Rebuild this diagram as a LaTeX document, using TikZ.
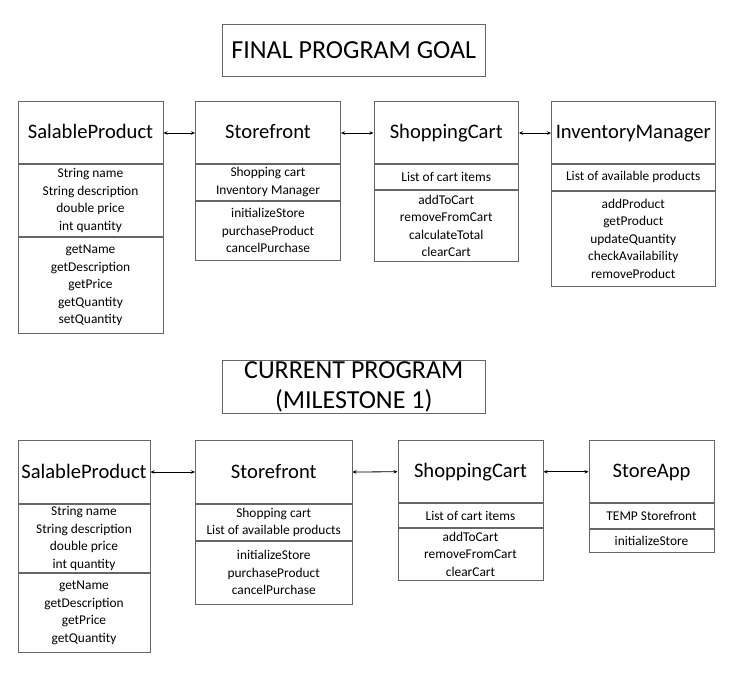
\documentclass[tikz,border=0pt]{standalone}
\usepackage{fontspec}
\setmainfont{Carlito}
\usetikzlibrary{arrows.meta}
\definecolor{boxc}{gray}{0.4}
\newcommand{\hdrfont}{\fontsize{20.6}{24}\selectfont}
\newcommand{\bodyfont}{\fontsize{13.4}{17.5}\selectfont}
\newcommand{\ttlfont}{\fontsize{26}{30}\selectfont}
\begin{document}
\begin{tikzpicture}[x=1pt,y=-1pt,
  box/.style={draw=boxc, line width=1pt, anchor=north west, inner sep=0pt, align=center, font=\bodyfont},
  hdr/.style={box, font=\hdrfont, text height=16.5pt, text depth=3.5pt},
  ttl/.style={box, font=\ttlfont},
  link/.style={line width=0.8pt, {Stealth[length=4pt,width=3.5pt]}-{Stealth[length=4pt,width=3.5pt]}}]
\useasboundingbox (0,0) rectangle (736,675);
% titles
\node[ttl, minimum width=263.5, minimum height=52] (t1) at (221.5,24) {FINAL PROGRAM GOAL};
\node[ttl, minimum width=263.5, minimum height=52.5] (t2) at (221.5,360) {CURRENT PROGRAM\\(MILESTONE 1)};
% ---- top row ----
\node[hdr, minimum width=145, minimum height=62] (spH) at (17.5,100.5) {SalableProduct};
\node[box, minimum width=145, minimum height=72.5] (spA) at (spH.south west) {String name\\String description\\double price\\int quantity};
\node[box, minimum width=145, minimum height=96] (spM) at (spA.south west) {getName\\getDescription\\getPrice\\getQuantity\\setQuantity};

\node[hdr, minimum width=145, minimum height=62] (sfH) at (195,100.5) {Storefront};
\node[box, minimum width=145, minimum height=36] (sfA) at (sfH.south west) {Shopping cart\\Inventory Manager};
\node[box, minimum width=145, minimum height=59.5] (sfM) at (sfA.south west) {initializeStore\\purchaseProduct\\cancelPurchase};

\node[hdr, minimum width=144.5, minimum height=62] (scH) at (373.5,100.5) {ShoppingCart};
\node[box, minimum width=144.5, minimum height=25.5] (scA) at (scH.south west) {List of cart items};
\node[box, minimum width=144.5, minimum height=70.5] (scM) at (scA.south west) {addToCart\\removeFromCart\\calculateTotal\\clearCart};

\node[hdr, minimum width=163.5, minimum height=62] (imH) at (551,100.5) {InventoryManager};
\node[box, minimum width=163.5, minimum height=26] (imA) at (imH.south west) {List of available products};
\node[box, minimum width=163.5, minimum height=95] (imM) at (imA.south west) {addProduct\\getProduct\\updateQuantity\\checkAvailability\\removeProduct};

\draw[link] ([yshift=-1pt]spH.east) -- ([yshift=-1pt]sfH.west);
\draw[link] ([yshift=-1pt]sfH.east) -- ([yshift=-1pt]scH.west);
\draw[link] ([yshift=-1pt]scH.east) -- ([yshift=-1pt]imH.west);
% ---- bottom row ----
\node[hdr, minimum width=132, minimum height=63] (bspH) at (17.5,439.5) {SalableProduct};
\node[box, minimum width=132, minimum height=68.5] (bspA) at (bspH.south west) {String name\\String description\\double price\\int quantity};
\node[box, minimum width=132, minimum height=79] (bspM) at (bspA.south west) {getName\\getDescription\\getPrice\\getQuantity};

\node[hdr, minimum width=156.5, minimum height=63] (bsfH) at (195,439.5) {Storefront};
\node[box, minimum width=156.5, minimum height=36.5] (bsfA) at (bsfH.south west) {Shopping cart\\List of available products};
\node[box, minimum width=156.5, minimum height=62.5] (bsfM) at (bsfA.south west) {initializeStore\\purchaseProduct\\cancelPurchase};

\node[hdr, minimum width=145, minimum height=62.5] (bscH) at (397.5,439.5) {ShoppingCart};
\node[box, minimum width=145, minimum height=24] (bscA) at (bscH.south west) {List of cart items};
\node[box, minimum width=145, minimum height=51.5] (bscM) at (bscA.south west) {addToCart\\removeFromCart\\clearCart};

\node[hdr, minimum width=125, minimum height=62.5] (saH) at (588.5,439.5) {StoreApp};
\node[box, minimum width=125, minimum height=24.5] (saA) at (saH.south west) {TEMP Storefront};
\node[box, minimum width=125, minimum height=23.5] (saM) at (saA.south west) {initializeStore};

\draw[link] ([yshift=-0.5pt]bspH.east) -- ([yshift=-0.5pt]bsfH.west);
\draw[link] ([yshift=-0.5pt]bsfH.east) -- ([yshift=-0.5pt]bscH.west);
\draw[link] ([yshift=-0.5pt]bscH.east) -- ([yshift=-0.5pt]saH.west);
\end{tikzpicture}
\end{document}
